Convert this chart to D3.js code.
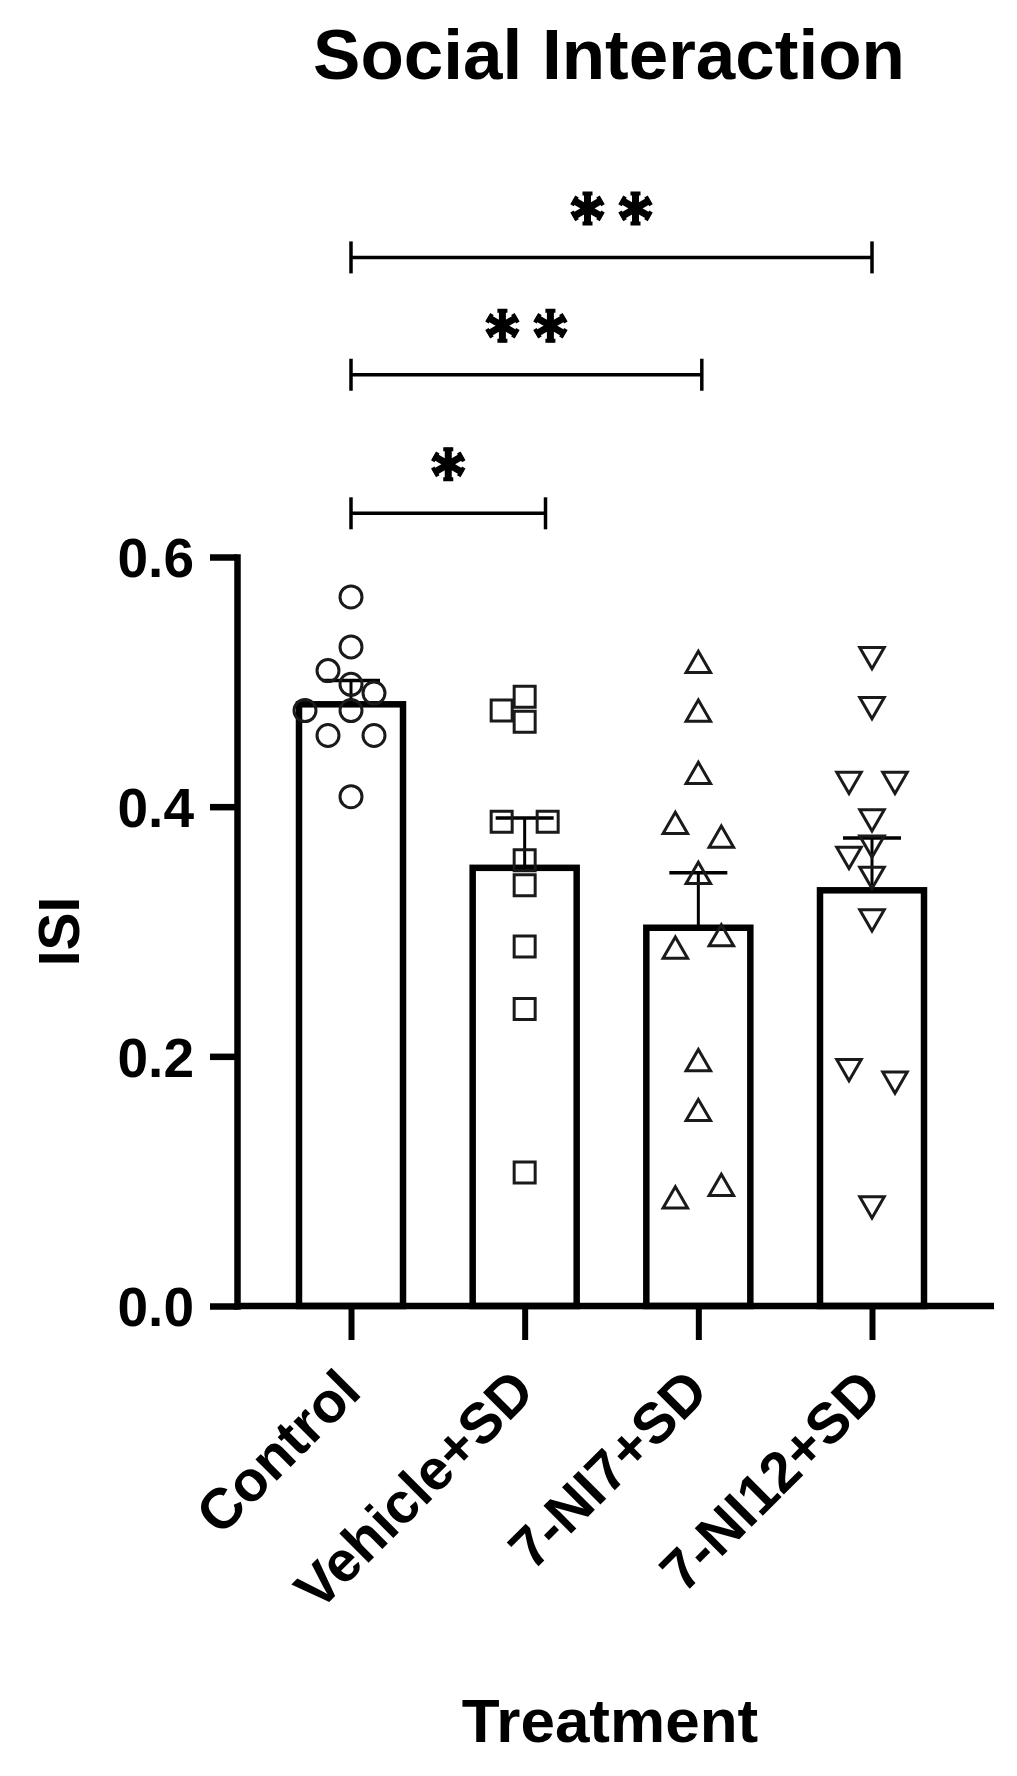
<!DOCTYPE html>
<html>
<head>
<meta charset="utf-8">
<script src="https://cdn.jsdelivr.net/npm/d3@7"></script>
<style>
  html, body { margin: 0; padding: 0; background: #fff; }
  svg text { font-family: "Liberation Sans", Arial, sans-serif; font-weight: bold; fill: #000; }
</style>
</head>
<body>
<script>
// Social Interaction: ISI per treatment group (bar = mean, error bar = SEM, symbols = animals)

const categories = ['Control', 'Vehicle+SD', '7-NI7+SD', '7-NI12+SD'];
const means = [0.482, 0.351, 0.303, 0.333];
const sems = [0.019, 0.040, 0.044, 0.042];

const controlPts = [0.568, 0.528, 0.509, 0.498, 0.491, 0.477, 0.477, 0.457, 0.457, 0.408];
const vehiclePts = [0.488, 0.477, 0.468, 0.388, 0.388, 0.357, 0.337, 0.288, 0.238, 0.107];
const ni7Pts = [0.516, 0.477, 0.427, 0.387, 0.376, 0.347, 0.287, 0.297, 0.197, 0.157, 0.087, 0.097];
const ni12Pts = [0.519, 0.479, 0.419, 0.419, 0.389, 0.368, 0.359, 0.343, 0.309, 0.189, 0.179, 0.079];

const yTicks = [0, 0.2, 0.4, 0.6];

// significance brackets: ends in category-index units, level in ISI units
const bracketFrom = [0, 0, 0];
const bracketTo = [1.12, 2.02, 3];
const bracketLevel = [0.635, 0.746, 0.84];
const bracketStars = [1, 2, 2];

const width = 1017;
const height = 1776;
const plotLeft = 237, plotRight = 994;
const plotTop = 557, plotBottom = 1306;

const svg = d3.select('body').append('svg')
    .attr('width', width)
    .attr('height', height);

const y = d3.scaleLinear().domain([0, 0.6]).range([plotBottom, plotTop]);
const x = d3.scalePoint().domain(categories).range([plotLeft + 114, plotRight - 122]);
const xi = d3.scaleLinear().domain([0, categories.length - 1]).range(x.range());

const barW = 104;
const groups = [controlPts, vehiclePts, ni7Pts, ni12Pts];

// bars
svg.append('g')
    .selectAll('rect')
    .data(categories)
    .enter().append('rect')
    .attr('x', d => x(d) - barW / 2)
    .attr('y', (d, i) => y(means[i]))
    .attr('width', barW)
    .attr('height', (d, i) => y(0) - y(means[i]))
    .attr('fill', '#fff')
    .attr('stroke', '#000')
    .attr('stroke-width', 6.5);

// error bars (upper only)
const err = svg.append('g').attr('stroke', '#000');
err.selectAll('line.v')
    .data(categories)
    .enter().append('line')
    .attr('class', 'v')
    .attr('x1', d => x(d)).attr('x2', d => x(d))
    .attr('y1', (d, i) => y(means[i]))
    .attr('y2', (d, i) => y(means[i] + sems[i]))
    .attr('stroke-width', 3);
err.selectAll('line.c')
    .data(categories)
    .enter().append('line')
    .attr('class', 'c')
    .attr('x1', d => x(d) - 29).attr('x2', d => x(d) + 29)
    .attr('y1', (d, i) => y(means[i] + sems[i]))
    .attr('y2', (d, i) => y(means[i] + sems[i]))
    .attr('stroke-width', 3.5);

// spread overlapping points sideways: close pairs go left/right,
// bigger clumps are packed greedily from the highest value down
function dodge(values, step, minDist) {
    const out = new Array(values.length).fill(0);
    const order = values.map((v, i) => i).sort((a, b) => values[b] - values[a]);
    const rows = [];
    order.forEach(i => {
        const last = rows[rows.length - 1];
        if (last && Math.abs(y(values[last[last.length - 1]]) - y(values[i])) < minDist) last.push(i);
        else rows.push([i]);
    });
    const slots = [0, -1, 1, -2, 2];
    rows.forEach(row => {
        if (row.length === 2) {
            const [a, b] = row.slice().sort((p, q) => p - q);
            out[a] = -step;
            out[b] = step;
            return;
        }
        const placed = [];
        row.forEach(i => {
            const py = y(values[i]);
            for (const s of slots) {
                const px = s * step;
                if (placed.every(p => Math.hypot(p.x - px, p.y - py) >= minDist)) {
                    placed.push({ x: px, y: py });
                    out[i] = px;
                    return;
                }
            }
        });
    });
    return out;
}

const symbolTypes = [d3.symbolCircle, d3.symbolSquare, d3.symbolTriangle, d3.symbolTriangle];
const symbolSizes = [380, 441, 260, 260];
const triH = Math.sqrt(4 * 260 / Math.sqrt(3)) * Math.sqrt(3) / 2;

groups.forEach((vals, gi) => {
    const offs = dodge(vals, 23, 24);
    const sym = d3.symbol().type(symbolTypes[gi]).size(symbolSizes[gi]);
    svg.append('g')
        .selectAll('path')
        .data(vals)
        .enter().append('path')
        .attr('d', sym)
        .attr('transform', (d, i) => {
            const cx = x(categories[gi]) + offs[i];
            const cy = y(d);
            if (gi === 2) return `translate(${cx},${cy + triH / 6})`;
            if (gi === 3) return `translate(${cx},${cy - triH / 6}) rotate(180)`;
            return `translate(${cx},${cy})`;
        })
        .attr('fill', 'none')
        .attr('stroke', '#1a1a1a')
        .attr('stroke-width', 3);
});

// y axis
const yAxis = svg.append('g')
    .attr('transform', `translate(${plotLeft},0)`)
    .call(d3.axisLeft(y).tickValues(yTicks).tickFormat(d3.format('.1f')).tickSize(27).tickSizeOuter(0).tickPadding(16));
yAxis.select('.domain').attr('stroke-width', 6.5).attr('stroke-linecap', 'square');
yAxis.selectAll('.tick line').attr('stroke-width', 6.5);
yAxis.selectAll('.tick text')
    .attr('font-size', 55)
    .attr('dy', '0.36em')
    .style('font-family', '"Liberation Sans", Arial, sans-serif')
    .style('font-weight', 'bold');

// x axis baseline + category ticks
svg.append('line')
    .attr('x1', plotLeft).attr('x2', plotRight)
    .attr('y1', plotBottom).attr('y2', plotBottom)
    .attr('stroke', '#000').attr('stroke-width', 6.5);

const xAxis = svg.append('g')
    .attr('transform', `translate(0,${plotBottom})`)
    .call(d3.axisBottom(x).tickSize(34).tickSizeOuter(0));
xAxis.select('.domain').remove();
xAxis.selectAll('.tick line').attr('stroke-width', 6);
xAxis.selectAll('.tick text')
    .attr('font-size', 57)
    .attr('x', 0).attr('y', 0).attr('dy', null)
    .attr('text-anchor', 'end')
    .attr('transform', 'translate(12,88) rotate(-45)')
    .style('font-family', '"Liberation Sans", Arial, sans-serif')
    .style('font-weight', 'bold');

// titles
svg.append('text')
    .attr('x', 609).attr('y', 79)
    .attr('text-anchor', 'middle')
    .attr('font-size', 71)
    .text('Social Interaction');

svg.append('text')
    .attr('transform', `translate(79,${(plotTop + plotBottom) / 2}) rotate(-90)`)
    .attr('text-anchor', 'middle')
    .attr('font-size', 57)
    .text('ISI');

svg.append('text')
    .attr('x', 610).attr('y', 1742)
    .attr('text-anchor', 'middle')
    .attr('font-size', 62)
    .text('Treatment');

// significance brackets
function asterisk(cx, cy, r) {
    const p = d3.path();
    for (let k = 0; k < 6; k++) {
        const a = (30 + 60 * k) * Math.PI / 180;
        p.moveTo(cx, cy);
        p.lineTo(cx + r * Math.cos(a), cy + r * Math.sin(a));
    }
    return p.toString();
}
function asteriskTips(cx, cy, r) {
    const p = d3.path();
    for (let k = 0; k < 6; k++) {
        const a = (30 + 60 * k) * Math.PI / 180;
        const tx = cx + (r - 1.5) * Math.cos(a), ty = cy + (r - 1.5) * Math.sin(a);
        const px = -Math.sin(a) * 5, py = Math.cos(a) * 5;
        p.moveTo(tx - px, ty - py);
        p.lineTo(tx + px, ty + py);
    }
    return p.toString();
}

const sig = svg.append('g').attr('stroke', '#000').attr('fill', 'none');
bracketLevel.forEach((lv, i) => {
    const x1 = xi(bracketFrom[i]), x2 = xi(bracketTo[i]), yy = y(lv);
    sig.append('line').attr('x1', x1).attr('x2', x2).attr('y1', yy).attr('y2', yy).attr('stroke-width', 3.5);
    [x1, x2].forEach(xx => {
        sig.append('line').attr('x1', xx).attr('x2', xx).attr('y1', yy - 16).attr('y2', yy + 16).attr('stroke-width', 3.5);
    });
    const mid = (x1 + x2) / 2;
    const n = bracketStars[i];
    for (let s = 0; s < n; s++) {
        const cx = mid + (s - (n - 1) / 2) * 48;
        const cy = yy - 49;
        sig.append('path').attr('d', asterisk(cx, cy, 16.5)).attr('stroke-width', 7);
        sig.append('path').attr('d', asteriskTips(cx, cy, 16.5)).attr('stroke-width', 4);
    }
});
</script>
</body>
</html>
